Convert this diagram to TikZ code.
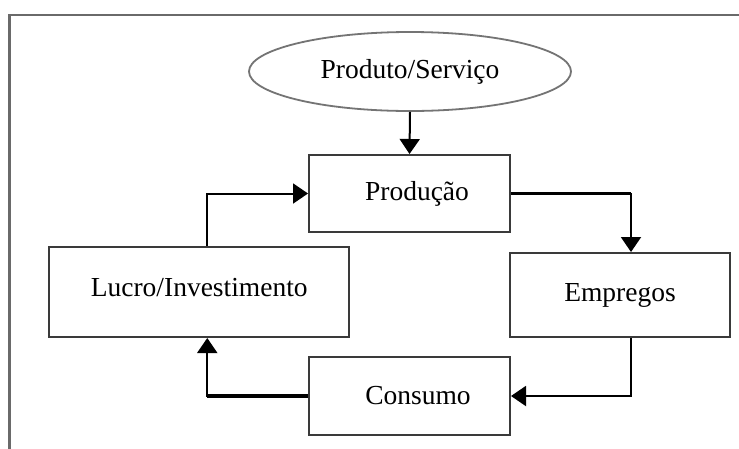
\documentclass[tikz,border=0pt]{standalone}
\usepackage{fontspec}
\setmainfont{Liberation Serif}
\usetikzlibrary{shapes.geometric,arrows.meta}
\definecolor{framegray}{HTML}{6A6A6A}
\definecolor{boxgray}{HTML}{3A3A3A}
\definecolor{ellgray}{HTML}{747474}
\begin{document}
\begin{tikzpicture}[x=1pt,y=-1pt,
  every node/.style={font=\fontsize{27.5}{30}\selectfont, text=black},
  box/.style={draw=boxgray, line width=2pt, rectangle, inner sep=0pt},
  conn/.style={draw=black, line width=2pt, -{Triangle[length=15pt,width=20pt]}},
  thick seg/.style={draw=black, line width=3.5pt},
  framestyle/.style={draw=framegray, line width=2.4pt}]
\useasboundingbox (0,0) rectangle (739,448);
\fill[white] (0,0) rectangle (739,448);
\draw[framestyle] (9.5,470) -- (9.5,15) -- (760,15);
\node[ellipse, draw=ellgray, line width=1.8pt, minimum width=322pt, minimum height=79pt, inner sep=0pt] (prodserv) at (410,71.5) {Produto/Serviço};
\node[box, minimum width=201pt, minimum height=77pt] (producao) at (409.5,193.5) {\hspace*{15pt}Produção};
\node[box, minimum width=300pt, minimum height=90pt, text depth=10pt] (lucro) at (199.25,292) {Lucro/Investimento};
\node[box, minimum width=220pt, minimum height=84pt] (empregos) at (620,295) {Empregos};
\node[box, minimum width=201pt, minimum height=78pt] (consumo) at (409.5,396) {\hspace*{17pt}Consumo};
\coordinate (lucroN) at ([xshift=8pt]lucro.north);
\coordinate (lucroS) at ([xshift=8pt]lucro.south);
\coordinate (empN) at ([xshift=11pt]empregos.north);
\coordinate (empS) at ([xshift=11pt]empregos.south);
\draw[conn] (prodserv.south) -- (producao.north);
\draw[conn] (lucroN) |- (producao.west);
\draw[thick seg] (producao.east) -- (producao.east -| empN);
\draw[conn] (producao.east) -| (empN);
\draw[conn] (empS) |- (consumo.east);
\draw[thick seg] (consumo.west) -- (consumo.west -| lucroS);
\draw[conn] (consumo.west) -| (lucroS);
\end{tikzpicture}
\end{document}
